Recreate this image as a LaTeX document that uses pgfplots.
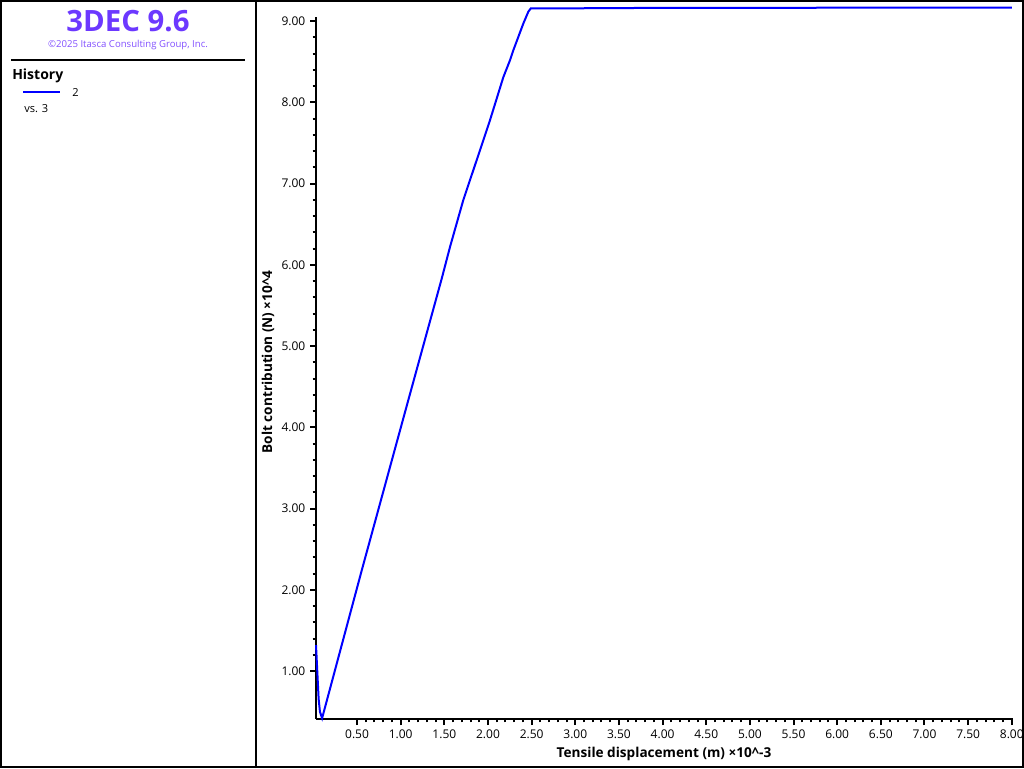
\documentclass[border=0pt]{standalone}
\usepackage{fontspec}
\setmainfont{Open Sans}
\usepackage{pgfplots}
\pgfplotsset{compat=1.18}

\definecolor{titlepurple}{RGB}{108,56,255}
\definecolor{copypurple}{RGB}{130,80,255}
\definecolor{histblue}{RGB}{0,0,255}

\begin{document}
\begin{tikzpicture}[x=0.75pt,y=0.75pt]
% coordinates in pixels of a 1024x768 image, y counted from the bottom
\useasboundingbox (0,0) rectangle (1024,768);
% frame and divider
\draw[line width=1.5pt] (1,1) rectangle (1023,767);
\draw[line width=1.5pt] (256,0) -- (256,768);

% left panel
\node[font=\bfseries\fontsize{22}{26}\selectfont, text=titlepurple] at (128,747) {3DEC 9.6};
\node[font=\fontsize{7.2}{8}\selectfont, text=copypurple, anchor=base] at (128,720) {©2025 Itasca Consulting Group, Inc.};
\draw[line width=1.5pt] (11,708) -- (245,708);
\node[font=\bfseries\fontsize{10.5}{12}\selectfont, anchor=base west, inner sep=0pt] at (12,688.5) {History};
\draw[histblue, line width=1.5pt] (23,676) -- (60,676);
\node[font=\fontsize{8.3}{10}\selectfont, anchor=base west, inner sep=0pt] at (72,671) {2};
\node[font=\fontsize{8.3}{10}\selectfont, anchor=base west, inner sep=0pt] at (24,655) {vs. 3};

% axis labels
\node[font=\bfseries\fontsize{10.2}{12}\selectfont] at (664,14) {Tensile displacement (m) ×10\textasciicircum-3};
\node[font=\bfseries\fontsize{10.2}{12}\selectfont, rotate=90] at (268,406) {Bolt contribution (N) ×10\textasciicircum4};

\begin{axis}[
  at={(237pt,36.75pt)}, anchor=south west,
  scale only axis, width=522.75pt, height=526.5pt,
  xmin=0.03, xmax=8.014, ymin=0.41, ymax=9.05,
  axis x line*=bottom, axis y line*=left,
  axis line style={line width=1.5pt, -},
  tick style={line width=1.5pt, black},
  tick align=outside,
  major tick length=4.5pt, minor tick length=2.6pt,
  xtick={0.5,1,...,8}, ytick={1,2,...,9},
  minor x tick num=4, minor y tick num=4,
  /pgf/number format/assume math mode=true,
  /pgf/number format/.cd, fixed, fixed zerofill, precision=2, /pgfplots/.cd,
  ticklabel style={font=\fontsize{9}{10}\selectfont},
  clip=false,
]
\addplot[histblue, line width=1.5pt] coordinates {
  (0.030,1.32) (0.045,0.99) (0.060,0.66) (0.075,0.50) (0.100,0.42)
  (0.554,2.24) (1.081,4.31) (1.470,5.83) (1.565,6.22) (1.718,6.80)
  (1.871,7.29) (2.023,7.78) (2.176,8.31) (2.253,8.52) (2.290,8.64)
  (2.405,8.97) (2.462,9.115) (2.490,9.155)
  (2.700,9.155) (3.000,9.157) (3.500,9.160) (4.000,9.162) (5.000,9.163)
  (6.000,9.164) (7.000,9.165) (8.000,9.165)
};
\end{axis}
\end{tikzpicture}
\end{document}
